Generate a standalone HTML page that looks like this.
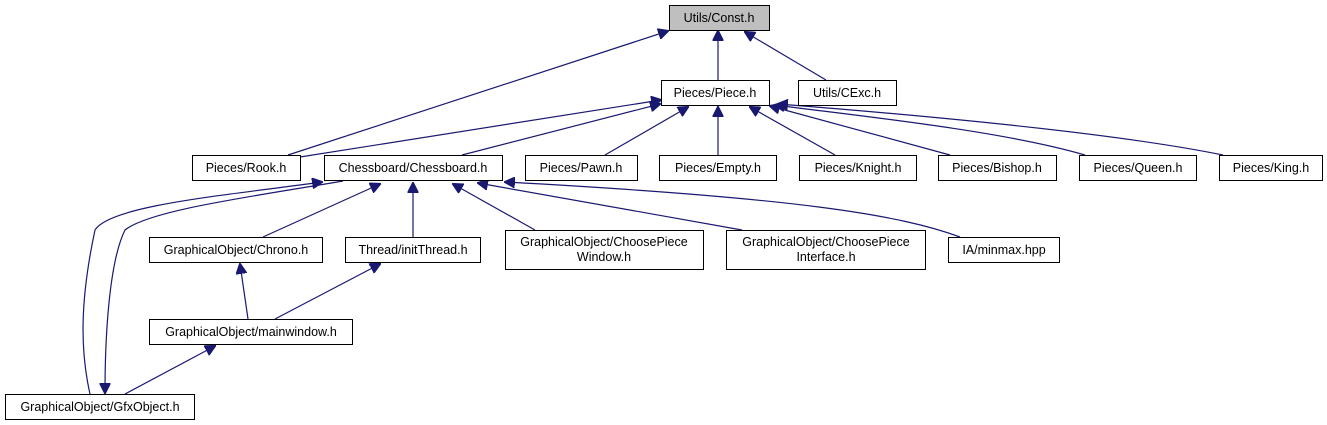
<!DOCTYPE html>
<html><head><meta charset="utf-8"><style>
html,body{margin:0;padding:0;background:#fff;}
svg{display:block;}
text{font-family:"Liberation Sans",sans-serif;font-size:12.5px;fill:#000;}
</style></head><body>
<svg width="1327" height="425" viewBox="0 0 1327 425" xmlns="http://www.w3.org/2000/svg">
<defs>
<marker id="a" viewBox="0 0 10 10" refX="9" refY="5" markerWidth="11" markerHeight="11" markerUnits="userSpaceOnUse" orient="auto">
<path d="M0,0 L10,5 L0,10 z" fill="#191970" stroke="#191970"/>
</marker>
</defs>
<g stroke="#191970" stroke-width="1.2" fill="none" marker-end="url(#a)">
<path d="M288,155 L668,31"/>
<path d="M300,157 L661,100"/>
<path d="M462,155 L660,104"/>
<path d="M718,80 L718,31"/>
<path d="M826,80 L745,32"/>
<path d="M605,155 L688,107"/>
<path d="M718,155 L718,107"/>
<path d="M835,155 L750,107"/>
<path d="M950,155 L770,106"/>
<path d="M1085,155 C1000,130 850,115 775,105"/>
<path d="M1223,155 C1100,130 880,112 778,104"/>
<path d="M90,394 C80,350 80,300 95,230 C110,205 230,195 322,182"/>
<path d="M343,181 C250,197 150,210 125,230 C110,260 105,330 105,393"/>
<path d="M263,237 L380,184"/>
<path d="M413,237 L413,183"/>
<path d="M535,230 L453,184"/>
<path d="M742,230 L478,183"/>
<path d="M960,237 C900,215 800,198 505,182"/>
<path d="M248,319 L240,264"/>
<path d="M275,319 L380,264"/>
<path d="M125,394 L215,346"/>
</g>
<g stroke="#000" stroke-width="1" fill="#fff">
<rect x="669.5" y="5.5" width="100" height="25" fill="#bfbfbf"/>
<rect x="661.5" y="80.5" width="108" height="25"/>
<rect x="798.5" y="80.5" width="98" height="25"/>
<rect x="192.5" y="155.5" width="108" height="25"/>
<rect x="324.5" y="155.5" width="178" height="25"/>
<rect x="525.5" y="155.5" width="112" height="25"/>
<rect x="659.5" y="155.5" width="117" height="25"/>
<rect x="799.5" y="155.5" width="117" height="25"/>
<rect x="938.5" y="155.5" width="118" height="25"/>
<rect x="1079.5" y="155.5" width="117" height="25"/>
<rect x="1219.5" y="155.5" width="103" height="25"/>
<rect x="149.5" y="237.5" width="173" height="25"/>
<rect x="345.5" y="237.5" width="135" height="25"/>
<rect x="505.5" y="230.5" width="198" height="39"/>
<rect x="726.5" y="230.5" width="199" height="39"/>
<rect x="948.5" y="237.5" width="111" height="25"/>
<rect x="149.5" y="319.5" width="203" height="25"/>
<rect x="5.5" y="394.5" width="189" height="25"/>
</g>
<g text-anchor="middle">
<text x="719" y="22">Utils/Const.h</text>
<text x="715" y="97">Pieces/Piece.h</text>
<text x="847" y="97">Utils/CExc.h</text>
<text x="246" y="172">Pieces/Rook.h</text>
<text x="413" y="172">Chessboard/Chessboard.h</text>
<text x="581" y="172">Pieces/Pawn.h</text>
<text x="718" y="172">Pieces/Empty.h</text>
<text x="858" y="172">Pieces/Knight.h</text>
<text x="997" y="172">Pieces/Bishop.h</text>
<text x="1138" y="172">Pieces/Queen.h</text>
<text x="1271" y="172">Pieces/King.h</text>
<text x="236" y="254">GraphicalObject/Chrono.h</text>
<text x="413" y="254">Thread/initThread.h</text>
<text x="604" y="246">GraphicalObject/ChoosePiece</text>
<text x="604" y="261">Window.h</text>
<text x="826" y="246">GraphicalObject/ChoosePiece</text>
<text x="826" y="261">Interface.h</text>
<text x="1004" y="254">IA/minmax.hpp</text>
<text x="251" y="336">GraphicalObject/mainwindow.h</text>
<text x="100" y="411">GraphicalObject/GfxObject.h</text>
</g>
</svg>
</body></html>
